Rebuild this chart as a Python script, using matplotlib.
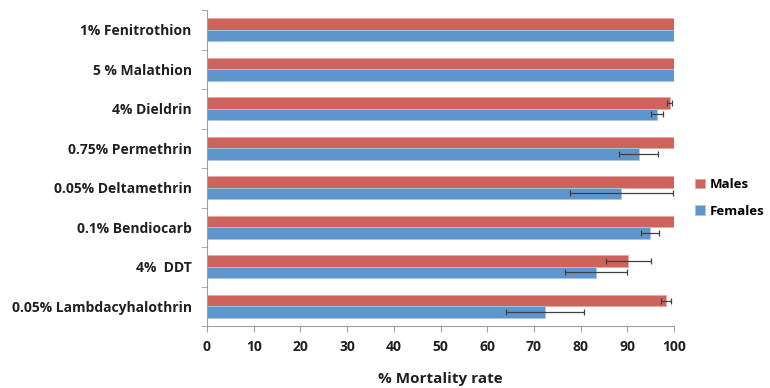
import matplotlib.pyplot as plt
import numpy as np

plt.rcParams['font.family'] = ['Open Sans', 'DejaVu Sans']

# categories listed top to bottom
insecticides = ['1% Fenitrothion', '5 % Malathion', '4% Dieldrin', '0.75% Permethrin',
                '0.05% Deltamethrin', '0.1% Bendiocarb', '4%  DDT', '0.05% Lambdacyhalothrin']
males = [100, 100, 99.1, 100, 100, 100, 90.2, 98.3]
males_err = [0, 0, 0.5, 0, 0, 0, 4.8, 1.0]
females = [100, 100, 96.4, 92.4, 88.7, 94.9, 83.3, 72.4]
females_err = [0, 0, 1.3, 4.2, 11.0, 1.9, 6.6, 8.4]

fig = plt.figure(figsize=(7.7, 3.88), dpi=100)
ax = fig.add_axes([207/770, 1 - 326/388, (674-207)/770, (326-10)/388])

y = np.arange(len(insecticides))[::-1]
h = 0.285
ax.barh(y + h/2, males, height=h, color='#CD635B', edgecolor='#E8A8A4', linewidth=0.6,
        label='Males')
ax.barh(y - h/2, females, height=h, color='#5E95CC', edgecolor='#A8C6E6', linewidth=0.6,
        label='Females')

# error bars only where there is a spread
ekw = dict(fmt='none', ecolor='#404040', elinewidth=0.9, capsize=2, capthick=0.9)
me = np.array(males_err)
fe = np.array(females_err)
m = me > 0
ax.errorbar(np.array(males)[m], (y + h/2)[m], xerr=me[m], **ekw)
f = fe > 0
ax.errorbar(np.array(females)[f], (y - h/2)[f], xerr=fe[f], **ekw)

ax.set_xlim(0, 100)
ax.set_ylim(-0.5, len(insecticides) - 0.5)
ax.set_xticks(np.arange(0, 101, 10))
ax.set_yticks(y)
ax.set_yticklabels(insecticides)
ax.set_yticks(np.arange(-0.5, len(insecticides)), minor=True)
ax.tick_params(axis='y', which='major', length=0, pad=11)
ax.tick_params(axis='y', which='minor', length=4, color='#A0A0A0', direction='out')
ax.tick_params(axis='x', length=4, color='#A0A0A0', pad=6)
for lab in ax.get_yticklabels() + ax.get_xticklabels():
    lab.set_fontweight('bold')
    lab.set_fontsize(10)
    lab.set_color('#202020')

for s in ['top', 'right']:
    ax.spines[s].set_visible(False)
for s in ['left', 'bottom']:
    ax.spines[s].set_color('#A0A0A0')
    ax.spines[s].set_linewidth(0.8)

ax.set_xlabel('% Mortality rate', fontsize=11, fontweight='bold', labelpad=13, color='#202020')

leg = ax.legend(loc='center left', bbox_to_anchor=(1.04, 0.405), frameon=False,
                prop={'weight': 'bold', 'size': 9.5}, handlelength=0.7, handleheight=0.7,
                handletextpad=0.4, labelspacing=1.0, borderpad=0.2, borderaxespad=0)

fig.savefig('out.png', dpi=100)
